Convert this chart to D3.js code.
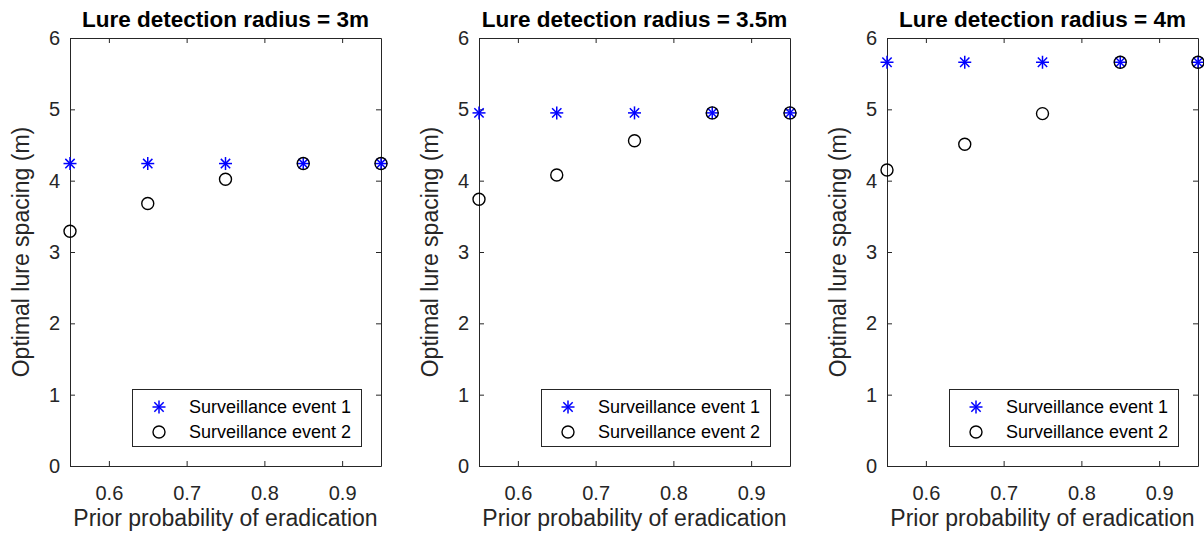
<!DOCTYPE html>
<html>
<head>
<meta charset="utf-8">
<script src="https://cdn.jsdelivr.net/npm/d3@7"></script>
<style>
  body { margin: 0; background: #fff; }
  svg { display: block; font-family: "Liberation Sans", Arial, sans-serif; }
</style>
</head>
<body>
<svg id="drawing_region"></svg>
<script>
// data
const probs = [0.55, 0.65, 0.75, 0.85, 0.95];
const radii = ["3m", "3.5m", "4m"];
const event1 = [
    [4.24, 4.24, 4.24, 4.24, 4.24],
    [4.95, 4.95, 4.95, 4.95, 4.95],
    [5.66, 5.66, 5.66, 5.66, 5.66]
];
const event2 = [
    [3.29, 3.68, 4.02, 4.24, 4.24],
    [3.74, 4.08, 4.56, 4.95, 4.95],
    [4.15, 4.51, 4.94, 5.66, 5.66]
];
const xTicks = [0.6, 0.7, 0.8, 0.9];
const yTicks = [0, 1, 2, 3, 4, 5, 6];
const seriesNames = ["Surveillance event 1", "Surveillance event 2"];

const W = 1204, H = 534;
const lefts = [70, 479, 887];
const axTop = 38, axBottom = 466, axW = 311;
const axisColor = "#262626";

const svg = d3.select("#drawing_region")
    .attr("width", W)
    .attr("height", H);

// asterisk marker: plus + cross
function star(g, cx, cy, r) {
    const d = r * 0.72;
    const segs = [[-r, 0, r, 0], [0, -r, 0, r], [-d, -d, d, d], [-d, d, d, -d]];
    segs.forEach(s => {
        g.append("line")
            .attr("x1", cx + s[0]).attr("y1", cy + s[1])
            .attr("x2", cx + s[2]).attr("y2", cy + s[3])
            .attr("stroke", "#0000ff")
            .attr("stroke-width", 1.5);
    });
}

function circ(g, cx, cy, r) {
    g.append("circle")
        .attr("cx", cx).attr("cy", cy).attr("r", r)
        .attr("fill", "none")
        .attr("stroke", "#000")
        .attr("stroke-width", 1.4);
}

radii.forEach((rad, i) => {
    const left = lefts[i];
    const xscale = d3.scaleLinear().domain([0.55, 0.95]).range([left, left + axW]);
    const yscale = d3.scaleLinear().domain([0, 6]).range([axBottom, axTop]);

    const g = svg.append("g");

    // axes box with inward ticks
    const styleAxis = sel => {
        sel.select(".domain").attr("stroke", axisColor);
        sel.selectAll(".tick line").attr("stroke", axisColor);
        sel.selectAll(".tick text")
            .attr("fill", axisColor)
            .attr("font-size", "20px")
            .attr("font-family", "Liberation Sans, Arial, sans-serif");
    };

    g.append("g")
        .attr("transform", `translate(0, ${axBottom})`)
        .call(d3.axisBottom(xscale).tickValues(xTicks).tickFormat(d3.format(".1f"))
            .tickSizeInner(-5).tickSizeOuter(0).tickPadding(20))
        .call(styleAxis);

    g.append("g")
        .attr("transform", `translate(0, ${axTop})`)
        .call(d3.axisTop(xscale).tickValues(xTicks).tickFormat("")
            .tickSizeInner(-5).tickSizeOuter(0))
        .call(styleAxis);

    g.append("g")
        .attr("transform", `translate(${left}, 0)`)
        .call(d3.axisLeft(yscale).tickValues(yTicks).tickFormat(d3.format("d"))
            .tickSizeInner(-5).tickSizeOuter(0).tickPadding(10))
        .call(styleAxis);

    g.append("g")
        .attr("transform", `translate(${left + axW}, 0)`)
        .call(d3.axisRight(yscale).tickValues(yTicks).tickFormat("")
            .tickSizeInner(-5).tickSizeOuter(0))
        .call(styleAxis);

    // title
    g.append("text")
        .attr("x", left + axW / 2)
        .attr("y", 27)
        .attr("text-anchor", "middle")
        .attr("font-size", "22.5px")
        .attr("font-weight", "bold")
        .attr("fill", "#000")
        .text(`Lure detection radius = ${rad}`);

    // axis labels
    g.append("text")
        .attr("x", left + axW / 2)
        .attr("y", 526)
        .attr("text-anchor", "middle")
        .attr("font-size", "23px")
        .attr("fill", axisColor)
        .text("Prior probability of eradication");

    g.append("text")
        .attr("transform", `translate(${left - 41}, ${(axTop + axBottom) / 2}) rotate(-90)`)
        .attr("text-anchor", "middle")
        .attr("font-size", "23px")
        .attr("fill", axisColor)
        .text("Optimal lure spacing (m)");

    // points
    const pts = g.append("g");
    probs.forEach((p, j) => star(pts, xscale(p), yscale(event1[i][j]), 6.5));
    probs.forEach((p, j) => circ(pts, xscale(p), yscale(event2[i][j]), 6));

    // legend
    const lg = g.append("g");
    lg.append("rect")
        .attr("x", left + 62.5)
        .attr("y", 389.5)
        .attr("width", axW - 82)
        .attr("height", 57)
        .attr("fill", "#fff")
        .attr("stroke", axisColor)
        .attr("stroke-width", 1);
    const rows = [407, 432];
    star(lg, left + 89, rows[0], 6.5);
    circ(lg, left + 89, rows[1], 6);
    seriesNames.forEach((nm, k) => {
        lg.append("text")
            .attr("x", left + 119)
            .attr("y", rows[k])
            .attr("dy", "0.35em")
            .attr("font-size", "18px")
            .attr("fill", "#000")
            .text(nm);
    });
});
</script>
</body>
</html>
